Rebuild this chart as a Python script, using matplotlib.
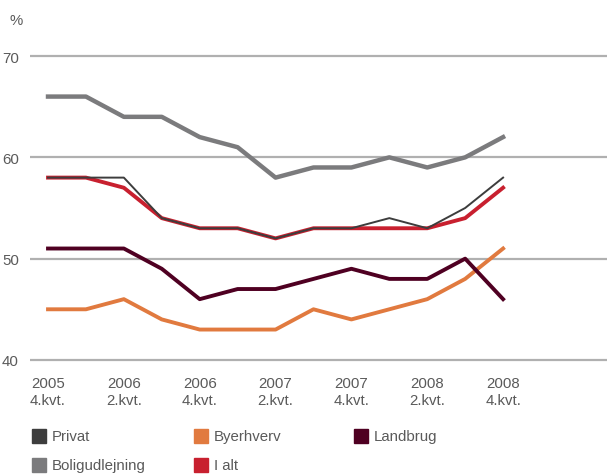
import matplotlib.pyplot as plt
from matplotlib.patches import Rectangle

plt.rcParams['font.family'] = ['Liberation Sans', 'DejaVu Sans']

# quarterly observations, 2005 Q4 to 2008 Q4
quarters = list(range(13))
tick_pos = [0, 2, 4, 6, 8, 10, 12]
tick_labels = ['2005\n4.kvt.', '2006\n2.kvt.', '2006\n4.kvt.', '2007\n2.kvt.',
               '2007\n4.kvt.', '2008\n2.kvt.', '2008\n4.kvt.']

boligudlejning = [66, 66, 64, 64, 62, 61, 58, 59, 59, 60, 59, 60, 62]
privat = [58, 58, 58, 54, 53, 53, 52, 53, 53, 54, 53, 55, 58]
i_alt = [58, 58, 57, 54, 53, 53, 52, 53, 53, 53, 53, 54, 57]
landbrug = [51, 51, 51, 49, 46, 47, 47, 48, 49, 48, 48, 50, 46]
byerhverv = [45, 45, 46, 44, 43, 43, 43, 45, 44, 45, 46, 48, 51]

c_privat = '#3d3d3d'
c_bolig = '#7b7b7d'
c_byer = '#e17a3f'
c_ialt = '#c8202f'
c_land = '#4f0022'
txt = '#5a5a5a'

fig = plt.figure(figsize=(6.07, 4.77), dpi=100)
ax = fig.add_axes([30 / 607, 0.2327, 1 - 30 / 607, 0.6583])

for y in (40, 50, 60, 70):
    ax.axhline(y, color='#b0b0b0', lw=1.6, zorder=1)

ax.plot(quarters, boligudlejning, color=c_bolig, lw=3.2, zorder=3)
ax.plot(quarters, byerhverv, color=c_byer, lw=2.8, zorder=3)
ax.plot(quarters, landbrug, color=c_land, lw=2.8, zorder=3)
ax.plot(quarters, i_alt, color=c_ialt, lw=2.8, zorder=4)
ax.plot(quarters, privat, color=c_privat, lw=1.4, zorder=5)

ax.set_xlim(-0.475, 14.74)
ax.set_ylim(39.5, 70.5)
ax.set_yticks([40, 50, 60, 70])
ax.set_xticks(tick_pos)
ax.set_xticklabels(tick_labels, linespacing=1.25)
ax.tick_params(length=0, labelsize=10.8, labelcolor=txt)
ax.tick_params(axis='y', pad=8)
ax.tick_params(axis='x', pad=8)
for lab in ax.get_xticklabels():
    lab.set_ha('center')
for s in ax.spines.values():
    s.set_visible(False)

fig.text(10 / 607, 1 - 21 / 477, '%', fontsize=10.8, color=txt, va='center')

# legend drawn as colour squares with labels
legend_items = [
    ('Privat', c_privat, 32, 437),
    ('Byerhverv', c_byer, 194, 437),
    ('Landbrug', c_land, 354, 437),
    ('Boligudlejning', c_bolig, 32, 466),
    ('I alt', c_ialt, 194, 466),
]
for label, col, px, py in legend_items:
    fig.patches.append(Rectangle((px / 607, 1 - (py + 7) / 477), 14 / 607, 14 / 477,
                                 transform=fig.transFigure, color=col, figure=fig))
    fig.text((px + 20) / 607, 1 - py / 477, label, fontsize=10.8, color=txt,
             va='center', ha='left')

fig.savefig('out.png', dpi=100)
